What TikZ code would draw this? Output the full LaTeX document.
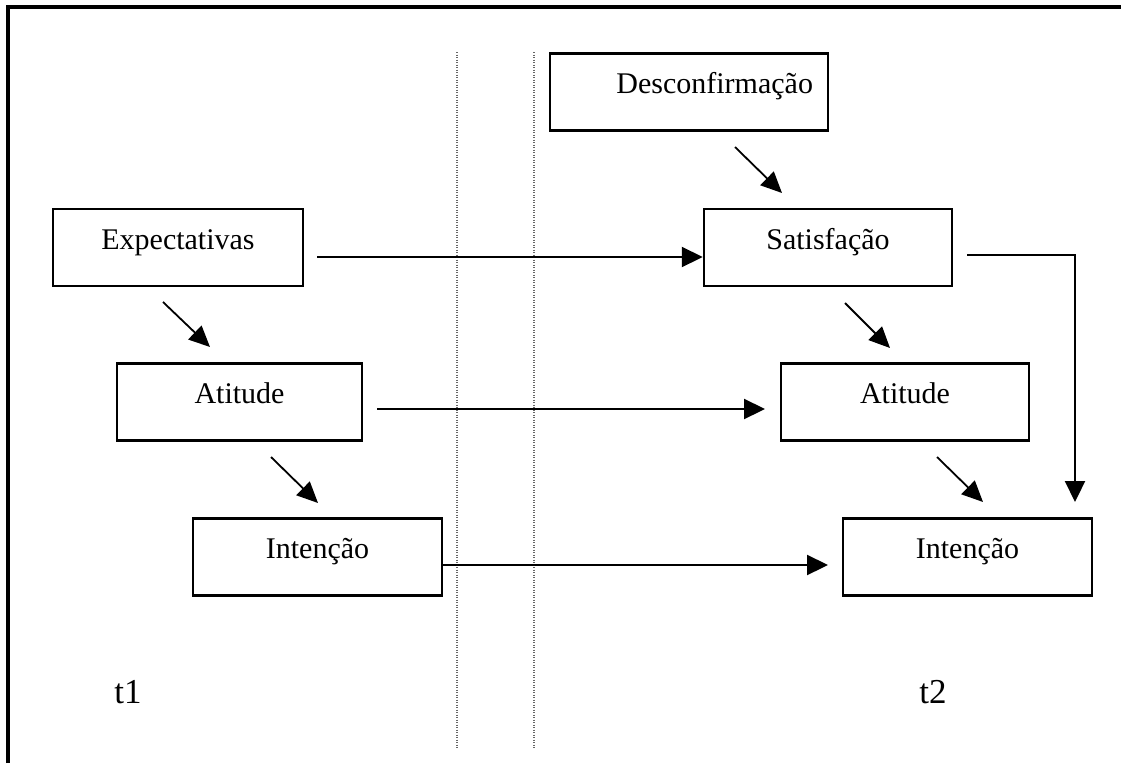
\documentclass[tikz,border=0pt]{standalone}
\usepackage{fontspec}
\setmainfont{Liberation Serif}
\usetikzlibrary{arrows.meta}
\begin{document}
\begin{tikzpicture}[x=1pt,y=-1pt,
  box/.style={draw, line width=2.5pt, rectangle, minimum width=250pt, minimum height=77pt,
    inner sep=0pt, text height=15pt, text depth=12pt, font=\fontsize{30}{36}\selectfont},
  flow/.style={line width=2.2pt, -{Triangle[length=21pt,width=20pt]}},
  slant/.style={line width=1.8pt, -{Triangle[length=21pt,width=19pt]}},
  sep/.style={line width=1.3pt, black!60, dash pattern=on 1.2pt off 1.3pt},
  period/.style={anchor=base, inner sep=0pt, font=\fontsize{35}{42}\selectfont}]
\useasboundingbox (0,0) rectangle (1121,763);
\fill[white] (0,0) rectangle (1121,763);

% outer frame (left and top edges)
\draw[line width=3.2pt] (8,763) -- (8,7) -- (1121,7);

% separators between the two moments
\draw[sep] (457,52) -- (457,749);
\draw[sep] (534,52) -- (534,749);

% moment t1
\node[box] (expL) at (178,247.5) {Expectativas};
\node[box, minimum width=245pt] (atiL) at (239.5,402) {Atitude};
\node[box, minimum width=249pt] (intL) at (317.5,557) {Intenção};

% moment t2
\node[box, minimum width=278pt, text width=248pt, inner xsep=15pt, align=right] (desc) at (689,92) {Desconfirmação};
\node[box, minimum width=248pt] (sat) at (828,247.5) {Satisfação};
\node[box, minimum width=248pt] (atiR) at (905,402) {Atitude};
\node[box, minimum width=249pt] (intR) at (967.5,557) {Intenção};

% period labels
\node[period] (t1) at (128,703) {t1};
\node[period] (t2) at (933,703) {t2};

% free ends of the connectors
\coordinate (e1) at (317,257);
\coordinate (a1) at (377,409);
\coordinate (a2) at (765,409);
\coordinate (s1) at (967,255);
\coordinate (s2) at (1075,255);
\coordinate (s3) at (1075,502);
\coordinate (i2) at (828,565);

\coordinate (d1a) at (735,147);  \coordinate (d1b) at (782,193);
\coordinate (d2a) at (163,302);  \coordinate (d2b) at (210,347);
\coordinate (d3a) at (271,457);  \coordinate (d3b) at (318,503);
\coordinate (d4a) at (845,303);  \coordinate (d4b) at (890,348);
\coordinate (d5a) at (937,457);  \coordinate (d5b) at (983,502);

% horizontal links across time
\draw[flow] (e1) -- (sat.west |- e1);
\draw[flow] (a1) -- (a2);
\draw[flow] (intL.east |- i2) -- (i2);
\draw[flow] (s1) -- (s2) -- (s3);

% causal links within each moment
\draw[slant] (d1a) -- (d1b);
\draw[slant] (d2a) -- (d2b);
\draw[slant] (d3a) -- (d3b);
\draw[slant] (d4a) -- (d4b);
\draw[slant] (d5a) -- (d5b);
\end{tikzpicture}
\end{document}
